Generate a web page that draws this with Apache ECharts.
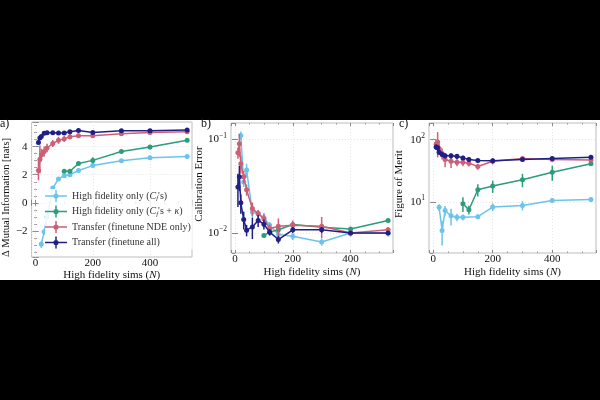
<!DOCTYPE html>
<html>
<head>
<meta charset="utf-8">
<script src="https://cdn.jsdelivr.net/npm/echarts@6/dist/echarts.min.js"></script>
<style>
html,body{margin:0;padding:0;background:#000;}
#band{position:absolute;left:0;top:120px;width:600px;height:160px;background:#fff;}
#chart{position:absolute;left:0;top:0;width:600px;height:400px;}
</style>
</head>
<body>
<div id="band"></div>
<div id="chart"></div>
<script>
// ---------- data ----------
const seriesNames = [
  "High fidelity only (Cf's)",
  "High fidelity only (Cf's + κ)",
  "Transfer (finetune NDE only)",
  "Transfer (finetune all)"
];
const nLight = [20, 30, 40, 60, 80, 100, 120, 150, 200, 300, 400, 530];
const nGreen = [100, 120, 150, 200, 300, 400, 530];
const nRed   = [10, 15, 20, 30, 40, 60, 80, 100, 120, 150, 200, 300, 400, 530];
const nDark  = [10, 15, 20, 30, 40, 60, 80, 100, 120, 150, 200, 300, 400, 530];

// panel a: Delta mutual information [nats]
const miLight = [-2.95, -2.05, -1.0, 1.05, 1.7, 1.93, 2.0, 2.3, 2.65, 3.0, 3.2, 3.3];
const miLightErr = [0.25, 0.2, 0.2, 0.15, 0.12, 0.1, 0.1, 0.12, 0.12, 0.1, 0.1, 0.15];
const miGreen = [2.25, 2.25, 2.8, 3.02, 3.65, 3.97, 4.45];
const miGreenErr = [0.08, 0.1, 0.1, 0.22, 0.08, 0.15, 0.08];
const miRed = [2.3, 3.1, 3.4, 3.65, 3.9, 4.22, 4.45, 4.55, 4.7, 4.78, 4.78, 4.92, 5.0, 5.05];
const miRedErr = [0.7, 1.0, 0.45, 0.35, 0.3, 0.25, 0.25, 0.2, 0.2, 0.15, 0.12, 0.08, 0.08, 0.08];
const miDark = [4.3, 4.62, 4.72, 4.95, 4.98, 4.98, 4.97, 4.97, 5.05, 5.15, 5.0, 5.12, 5.13, 5.18];
const miDarkErr = [0.15, 0.1, 0.1, 0.08, 0.06, 0.06, 0.06, 0.06, 0.06, 0.06, 0.06, 0.06, 0.06, 0.06];

// panel b: calibration error
const ceLight = [0.11, 0.035, 0.047, 0.0167, 0.016, 0.0146, 0.0121, 0.0096, 0.0092, 0.0080, 0.0100, 0.0099];
const ceLightErr = [0.012, 0.004, 0.008, 0.002, 0.0015, 0.0012, 0.001, 0.0008, 0.0008, 0.0007, 0.0008, 0.0008];
const ceGreen = [0.0094, 0.0102, 0.0108, 0.0123, 0.0115, 0.0110, 0.0136];
const ceGreenErr = [0.0004, 0.0008, 0.0005, 0.0005, 0.0004, 0.0004, 0.0004];
const ceRed = [0.072, 0.09, 0.055, 0.040, 0.029, 0.0182, 0.0161, 0.0142, 0.0111, 0.0118, 0.0121, 0.0118, 0.0100, 0.0108];
const ceRedErr = [0.01, 0.025, 0.012, 0.006, 0.004, 0.003, 0.0015, 0.002, 0.0012, 0.0025, 0.0015, 0.003, 0.0008, 0.0008];
const ceDark = [0.031, 0.040, 0.021, 0.0139, 0.0107, 0.0116, 0.0136, 0.0124, 0.0102, 0.0085, 0.0108, 0.0108, 0.0100, 0.0100];
const ceDarkErr = [0.012, 0.012, 0.005, 0.003, 0.0015, 0.003, 0.002, 0.0015, 0.0008, 0.0008, 0.0008, 0.0008, 0.0005, 0.0005];

// panel c: figure of merit
const fmLight = [8.2, 3.5, 7.3, 6.0, 5.7, 5.7, null, 5.8, 8.3, 8.8, 10.6, 11.0];
const fmLightErr = [1.0, 1.5, 1.3, 1.8, 0.8, 0.6, 0, 0.5, 1.2, 1.5, 0.8, 1.0];
const fmGreen = [9.4, 7.5, 15.7, 18, 22.8, 30, 41];
const fmGreenErr = [2.5, 1.2, 3.5, 4, 5.5, 8, 2];
const fmRed = [85, 92, 72, 60, 48, 45, 43.5, 43.5, 42, 37, 45, 50, 48, 47];
const fmRedErr = [15, 40, 15, 12, 12, 10, 6, 6, 5, 4, 5, 3, 3, 3];
const fmDark = [76, 74, 63, 58, 55, 55, 54, 51, 48, 46.5, 46, 48, 50, 52];
const fmDarkErr = [8, 8, 6, 6, 5, 5, 5, 4, 4, 3, 4, 3, 3, 3];

const panelLabels = ["a)", "b)", "c)"];
const yNames = ["Δ Mutual Information [nats]", "Calibration Error", "Figure of Merit"];
const xName = "High fidelity sims ({i|N})";

// ---------- style ----------
const colors = ["#6cc3ec", "#2b9c7c", "#cd5f75", "#1f1f86"];
const FONT = "Liberation Serif";
const frameColor = "#bdbdbd";
const grids = [
  {left: 28, top: 122, width: 164, height: 135},
  {left: 231, top: 123, width: 162, height: 130},
  {left: 429, top: 123, width: 167, height: 130}
];
const yLims = [[-3.85, 5.75], [0.0061, 0.15], [1.52, 185]];
const xLim = [-14, 547];
const xNameGap = [11, 14, 14];
const yNameGap = [11, 18, 24];
const yNamePad = [[0, 16, 0, 0], [0, 0, 0, 8], [0, 0, 0, 8]];

function supLabel(v) {
  const e = Math.round(Math.log10(v));
  return "{b|10}{s|" + (e < 0 ? "−" + (-e) : e) + "}";
}
const supRich = {
  b: {fontFamily: FONT, fontSize: 11, color: "#111"},
  s: {fontFamily: FONT, fontSize: 7.5, color: "#111", padding: [0, 0, 7, 0]}
};

const xAxes = [], yAxes = [];
for (let k = 0; k < 2; k++) {
  for (let p = 0; p < 3; p++) {
    const primary = k === 0;
    xAxes.push({
      type: "value", gridIndex: p, min: xLim[0], max: xLim[1], splitNumber: 3,
      position: primary ? "bottom" : "top",
      name: primary ? xName : "", nameLocation: "middle", nameGap: xNameGap[p],
      nameTextStyle: {fontFamily: FONT, fontSize: 11, color: "#111",
        rich: {i: {fontFamily: FONT, fontSize: 11, fontStyle: "italic", color: "#111"}}},
      axisLine: {show: false},
      axisTick: {show: true, inside: true, length: 3, lineStyle: {color: "#888"}},
      minorTick: {show: true, splitNumber: 4, length: 1.5, lineStyle: {color: "#999"}},
      axisLabel: {show: primary, showMinLabel: false, showMaxLabel: false, margin: 1,
        fontFamily: FONT, fontSize: 11, color: "#111"},
      splitLine: {show: primary, lineStyle: {color: "#dedede", type: [1, 2], width: 0.8}}
    });
    const isLog = p > 0;
    yAxes.push({
      type: isLog ? "log" : "value", logBase: 10, gridIndex: p,
      min: yLims[p][0], max: yLims[p][1], splitNumber: 5,
      position: primary ? "left" : "right",
      name: primary ? yNames[p] : "", nameLocation: "middle",
      nameGap: yNameGap[p],
      nameTextStyle: {fontFamily: FONT, fontSize: p === 0 ? 10.5 : 11, color: "#111", padding: yNamePad[p]},
      axisLine: {show: false},
      axisTick: {show: true, inside: true, length: 3, lineStyle: {color: "#888"}},
      minorTick: {show: !isLog, splitNumber: 4, length: 1.5, lineStyle: {color: "#999"}},
      axisLabel: {show: primary, showMinLabel: false, showMaxLabel: false, margin: 4,
        fontFamily: FONT, fontSize: 11, color: "#111",
        formatter: isLog ? supLabel : (v => v < 0 ? "−" + (-v) : String(v)),
        rich: supRich},
      splitLine: {show: primary, lineStyle: {color: "#dedede", type: [1, 2], width: 0.8}}
    });
  }
}

const series = [];
function addSeries(p, ci, xs, ys, errs) {
  const pts = xs.map((x, i) => [x, ys[i]]).filter(d => d[1] !== null);
  const eb = xs.map((x, i) => ys[i] === null ? null : [x, ys[i] - errs[i], ys[i] + errs[i]]).filter(d => d);
  series.push({
    type: "custom", name: "eb" + p + ci, xAxisIndex: p, yAxisIndex: p,
    data: eb, encode: {x: 0, y: [1, 2]}, z: 3 + ci, silent: true,
    renderItem: (params, api) => {
      const a = api.coord([api.value(0), api.value(1)]);
      const b = api.coord([api.value(0), api.value(2)]);
      return {type: "line", shape: {x1: a[0], y1: a[1], x2: b[0], y2: b[1]},
        style: {stroke: colors[ci], lineWidth: 1.5}};
    }
  });
  series.push({
    type: "line", name: seriesNames[ci], xAxisIndex: p, yAxisIndex: p,
    data: pts, symbol: "circle", symbolSize: 5, showSymbol: true, z: 3 + ci,
    lineStyle: {color: colors[ci], width: 1.5}, itemStyle: {color: colors[ci]},
    animation: false
  });
}
addSeries(0, 0, nLight, miLight, miLightErr);
addSeries(0, 1, nGreen, miGreen, miGreenErr);
addSeries(0, 2, nRed, miRed, miRedErr);
addSeries(0, 3, nDark, miDark, miDarkErr);
addSeries(1, 0, nLight, ceLight, ceLightErr);
addSeries(1, 1, nGreen, ceGreen, ceGreenErr);
addSeries(1, 2, nRed, ceRed, ceRedErr);
addSeries(1, 3, nDark, ceDark, ceDarkErr);
addSeries(2, 0, nLight, fmLight, fmLightErr);
addSeries(2, 1, nGreen, fmGreen, fmGreenErr);
addSeries(2, 2, nRed, fmRed, fmRedErr);
addSeries(2, 3, nDark, fmDark, fmDarkErr);

const legendLabels = {
  [seriesNames[0]]: "High fidelity only ({i|C}{sub|f}'s)",
  [seriesNames[1]]: "High fidelity only ({i|C}{sub|f}'s + {i|κ})",
  [seriesNames[2]]: "Transfer (finetune NDE only)",
  [seriesNames[3]]: "Transfer (finetune all)"
};

const chart = echarts.init(document.getElementById("chart"), null, {renderer: "canvas"});
chart.setOption({
  backgroundColor: "transparent",
  animation: false,
  title: panelLabels.map((t, i) => ({
    text: t, left: [0, 201, 399][i], top: 118, padding: 0,
    textStyle: {fontFamily: FONT, fontSize: 12, fontWeight: "normal", color: "#111"}
  })),
  grid: grids.map(g => Object.assign({show: true, borderColor: frameColor, borderWidth: 1,
    backgroundColor: "transparent", containLabel: false}, g)),
  xAxis: xAxes,
  yAxis: yAxes,
  legend: {
    data: seriesNames, orient: "vertical", left: 45, top: 189,
    itemWidth: 22, itemHeight: 12, itemGap: 3.5,
    icon: "path://M0,5.25H22V6.75H0Z M10.25,0H11.75V12H10.25Z M13.6,6A2.6,2.6 0 1 1 8.4,6A2.6,2.6 0 1 1 13.6,6Z",
    backgroundColor: "rgba(255,255,255,0.85)", padding: [1, 2, 1, 0],
    selectedMode: false,
    formatter: n => legendLabels[n],
    textStyle: {fontFamily: FONT, fontSize: 10, color: "#333",
      rich: {
        i: {fontFamily: FONT, fontSize: 10, fontStyle: "italic", color: "#333"},
        sub: {fontFamily: FONT, fontSize: 7, fontStyle: "italic", color: "#333", padding: [5, 0, 0, 0]}
      }}
  },
  series: series
});
</script>
</body>
</html>
